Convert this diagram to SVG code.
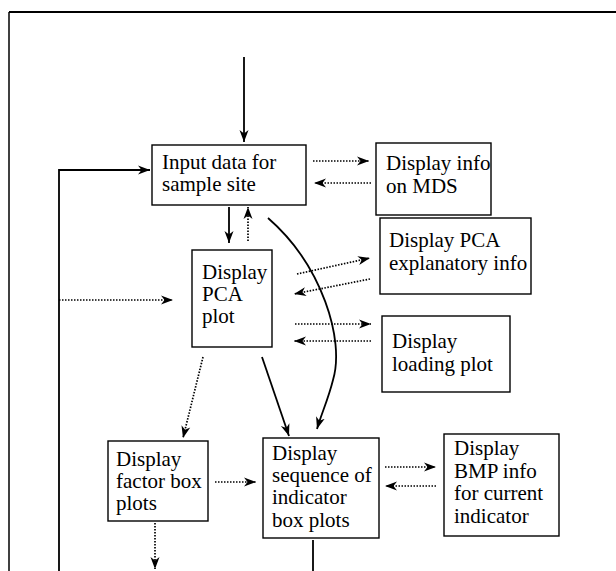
<svg xmlns="http://www.w3.org/2000/svg" width="616" height="571" viewBox="0 0 616 571">
<style>
.box{fill:#fff;stroke:#000;stroke-width:1.4}
.t{font-family:"Liberation Serif","Times New Roman",serif;font-size:21px;fill:#000}
.s{fill:none;stroke:#000;stroke-width:1.8}
.d{fill:none;stroke:#000;stroke-width:1.7;stroke-dasharray:1.5 1.5}
</style>
<defs>
<marker id="ah" markerUnits="userSpaceOnUse" markerWidth="14" markerHeight="12" refX="12" refY="5" orient="auto">
<path d="M0,0.5 L12,5 L0,9.5 L3.5,5 z" fill="#000"/>
</marker>
</defs>
<g id="frame">
<line x1="9" y1="12" x2="616" y2="12" stroke="#000" stroke-width="2"/>
<line x1="9" y1="12" x2="9" y2="571" stroke="#000" stroke-width="1.5"/>
</g>
<g id="connectors">
<line class="s" x1="244" y1="57" x2="244" y2="142" marker-end="url(#ah)"/>
<polyline class="s" points="59,571 59,170 150,170" marker-end="url(#ah)"/>
<line class="d" x1="313" y1="161" x2="369" y2="161" marker-end="url(#ah)"/>
<line class="d" x1="371" y1="183" x2="314" y2="183" marker-end="url(#ah)"/>
<line class="s" x1="229" y1="207" x2="229" y2="243" marker-end="url(#ah)"/>
<line class="d" x1="248" y1="241" x2="248" y2="207" marker-end="url(#ah)"/>
<line class="d" x1="59" y1="300" x2="173" y2="300" marker-end="url(#ah)"/>
<line class="d" x1="297" y1="274" x2="370" y2="258" marker-end="url(#ah)"/>
<line class="d" x1="370" y1="279" x2="294" y2="294" marker-end="url(#ah)"/>
<line class="d" x1="295" y1="324" x2="371" y2="324" marker-end="url(#ah)"/>
<line class="d" x1="371" y1="341" x2="294" y2="341" marker-end="url(#ah)"/>
<path class="s" d="M268,218 C322,265 345,340 333,380 C328,400 322,412 317,429" marker-end="url(#ah)"/>
<line class="s" x1="262" y1="357" x2="289" y2="436" marker-end="url(#ah)"/>
<line class="d" x1="203" y1="357" x2="183" y2="438" marker-end="url(#ah)"/>
<line class="d" x1="215" y1="482" x2="256" y2="482" marker-end="url(#ah)"/>
<line class="d" x1="385" y1="467" x2="436" y2="467" marker-end="url(#ah)"/>
<line class="d" x1="436" y1="486" x2="385" y2="486" marker-end="url(#ah)"/>
<line class="d" x1="155" y1="523" x2="155" y2="569" marker-end="url(#ah)"/>
<line class="s" x1="313" y1="540" x2="313" y2="571"/>
</g>
<g id="input">
<rect class="box" x="152" y="145" width="154" height="60"/>
<text class="t" x="162" y="169">Input data for</text>
<text class="t" x="162" y="191">sample site</text>
</g>
<g id="mds">
<rect class="box" x="376" y="143" width="115" height="72"/>
<text class="t" x="386" y="170">Display info</text>
<text class="t" x="386" y="193">on MDS</text>
</g>
<g id="pca">
<rect class="box" x="192" y="250" width="80" height="97"/>
<text class="t" x="202" y="279">Display</text>
<text class="t" x="202" y="301">PCA</text>
<text class="t" x="202" y="323">plot</text>
</g>
<g id="explanatory">
<rect class="box" x="380" y="218" width="151" height="76"/>
<text class="t" x="389" y="247">Display PCA</text>
<text class="t" x="389" y="270">explanatory info</text>
</g>
<g id="loading">
<rect class="box" x="382" y="316" width="128" height="76"/>
<text class="t" x="392" y="348">Display</text>
<text class="t" x="392" y="371">loading plot</text>
</g>
<g id="factor">
<rect class="box" x="108" y="441" width="100" height="80"/>
<text class="t" x="116" y="466">Display</text>
<text class="t" x="116" y="488">factor box</text>
<text class="t" x="116" y="510">plots</text>
</g>
<g id="indicator">
<rect class="box" x="263" y="438" width="116" height="100"/>
<text class="t" x="272" y="460">Display</text>
<text class="t" x="272" y="482">sequence of</text>
<text class="t" x="272" y="504">indicator</text>
<text class="t" x="272" y="527">box plots</text>
</g>
<g id="bmp">
<rect class="box" x="444" y="434" width="115" height="102"/>
<text class="t" x="454" y="455">Display</text>
<text class="t" x="454" y="478">BMP info</text>
<text class="t" x="454" y="500">for current</text>
<text class="t" x="454" y="523">indicator</text>
</g>
</svg>
